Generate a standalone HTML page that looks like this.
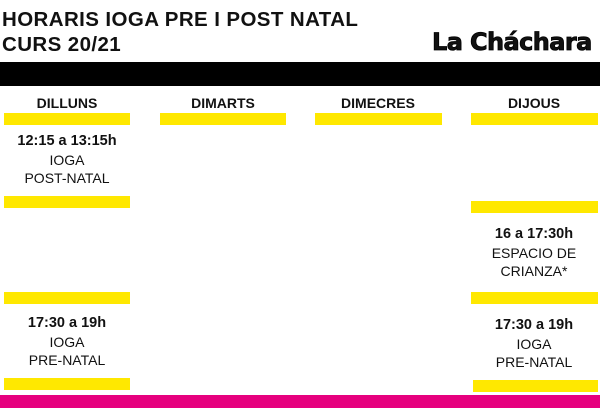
<!DOCTYPE html>
<html><head><meta charset="utf-8"><style>
body{margin:0;width:600px;height:408px;background:#fff;position:relative;overflow:hidden;font-family:"Liberation Sans",sans-serif;color:#111}
.a{position:absolute}
.y{position:absolute;background:#ffe800;height:12px}
.t{position:absolute;width:126px;text-align:center;font-size:14px;line-height:18.5px}
.t b{font-size:14.5px}
.d{position:absolute;width:126px;text-align:center;font-weight:bold;font-size:14px;top:95px}
</style></head><body>
<div class="a" style="left:2px;top:7px;font-weight:bold;font-size:20.5px;line-height:25px;letter-spacing:0.4px">HORARIS IOGA PRE I POST NATAL<br>CURS 20/21</div>
<div class="a" style="left:432px;top:28px;font-weight:900;font-size:24px;letter-spacing:-0.6px;font-family:'DejaVu Sans',sans-serif;-webkit-text-stroke:0.8px #000">La Cháchara</div>
<div class="a" style="left:0;top:62px;width:600px;height:24px;background:#000"></div>
<div class="d" style="left:4px">DILLUNS</div>
<div class="d" style="left:160px">DIMARTS</div>
<div class="d" style="left:315px">DIMECRES</div>
<div class="d" style="left:471px">DIJOUS</div>
<div class="y" style="left:4px;top:113px;width:126px"></div>
<div class="y" style="left:160px;top:113px;width:126px"></div>
<div class="y" style="left:315px;top:113px;width:127px"></div>
<div class="y" style="left:471px;top:113px;width:127px"></div>
<div class="t" style="left:4px;top:131px"><b>12:15 a 13:15h</b><br>IOGA<br>POST-NATAL</div>
<div class="y" style="left:4px;top:196px;width:126px"></div>
<div class="y" style="left:4px;top:292px;width:126px"></div>
<div class="t" style="left:4px;top:313px"><b>17:30 a 19h</b><br>IOGA<br>PRE-NATAL</div>
<div class="y" style="left:4px;top:378px;width:126px"></div>
<div class="y" style="left:471px;top:201px;width:127px"></div>
<div class="t" style="left:471px;top:224px"><b>16 a 17:30h</b><br>ESPACIO DE<br>CRIANZA*</div>
<div class="y" style="left:471px;top:292px;width:127px"></div>
<div class="t" style="left:471px;top:315px"><b>17:30 a 19h</b><br>IOGA<br>PRE-NATAL</div>
<div class="y" style="left:473px;top:380px;width:125px"></div>
<div class="a" style="left:0;top:395px;width:600px;height:13px;background:#e6007e"></div>
</body></html>
